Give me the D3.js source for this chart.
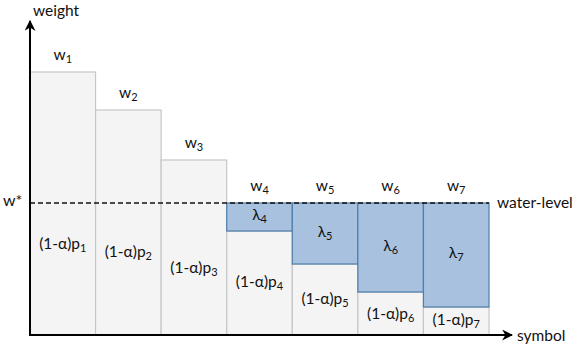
<!DOCTYPE html>
<html>
<head>
<meta charset="utf-8">
<script src="https://cdn.jsdelivr.net/npm/d3@7"></script>
<style>
  body { margin: 0; background: #fff; }
  svg { display: block; font-family: Lato, "Open Sans", sans-serif; }
</style>
</head>
<body>
<svg id="chart" width="581" height="350"></svg>
<script>
const symbols = [1, 2, 3, 4, 5, 6, 7];
// weight of each symbol (arbitrary units)
const weights = [2.63, 2.25, 1.75, 1.04, 0.71, 0.43, 0.28];
const waterLevel = 1.32;
// where the (1-α)p label sits inside each grey block
const pLabelAt = [0.90, 0.82, 0.66, 0.52, 0.355, 0.2, 0.14];

const svg = d3.select("#chart");
const x = d3.scaleBand().domain(symbols).range([30, 489]).padding(0);
const y = d3.scaleLinear().domain([0, 3.13]).range([335, 22]);

const grey = "#f4f4f4", greyLine = "#c6c6c6";
const blue = "#a7c1df", blueLine = "#4e7eab";
const fs = 15.5;

// grey blocks: full weight, capped at the water level for the filled ones
svg.append("g").selectAll("rect").data(symbols).join("rect")
  .attr("x", d => x(d))
  .attr("y", (d, i) => y(weights[i]))
  .attr("width", x.bandwidth())
  .attr("height", (d, i) => y(0) - y(weights[i]))
  .attr("fill", grey).attr("stroke", greyLine).attr("stroke-width", 1.2);

// blue water between the weight and the water level
const filled = symbols.filter((d, i) => weights[i] < waterLevel);
svg.append("g").selectAll("rect").data(filled).join("rect")
  .attr("x", d => x(d))
  .attr("y", y(waterLevel))
  .attr("width", x.bandwidth())
  .attr("height", d => y(weights[d - 1]) - y(waterLevel))
  .attr("fill", blue).attr("stroke", blueLine).attr("stroke-width", 1.2);

function subLabel(g, px, py, main, sub) {
  const t = g.append("text").attr("x", px).attr("y", py)
    .attr("text-anchor", "middle").attr("font-size", fs).attr("fill", "#111");
  t.append("tspan").text(main);
  t.append("tspan").attr("font-size", 11).attr("dy", 3).text(sub);
  return t;
}

const labels = svg.append("g");
symbols.forEach((d, i) => {
  const cx = x(d) + x.bandwidth() / 2;
  const top = Math.max(weights[i], waterLevel);
  subLabel(labels, cx, y(top) - 12, "w", d);
  subLabel(labels, cx, y(pLabelAt[i]) + 4, "(1-α)p", d);
  if (weights[i] < waterLevel) {
    subLabel(labels, cx, (y(weights[i]) + y(waterLevel)) / 2 + 3, "λ", d);
  }
});

// water level
svg.append("line")
  .attr("x1", 30).attr("x2", x.range()[1])
  .attr("y1", y(waterLevel)).attr("y2", y(waterLevel))
  .attr("stroke", "#111").attr("stroke-width", 1.5).attr("stroke-dasharray", "5,3");

svg.append("text").attr("x", 3).attr("y", y(waterLevel) + 3)
  .attr("font-size", fs + 0.5).attr("fill", "#111").text("w*");
svg.append("text").attr("x", 497).attr("y", y(waterLevel) + 5)
  .attr("font-size", fs).attr("fill", "#111").text("water-level");

// axes with arrow heads
const defs = svg.append("defs");
defs.append("marker").attr("id", "arrow")
  .attr("viewBox", "0 0 10 10").attr("refX", 9).attr("refY", 5)
  .attr("markerWidth", 5.5).attr("markerHeight", 5.5).attr("orient", "auto")
  .attr("markerUnits", "strokeWidth")
  .append("path").attr("d", "M0,0L10,5L0,10L3,5z").attr("fill", "#000");

svg.append("line").attr("x1", 30).attr("x2", 30).attr("y1", y(0) + 1).attr("y2", 21)
  .attr("stroke", "#000").attr("stroke-width", 2).attr("marker-end", "url(#arrow)");
svg.append("line").attr("x1", 29).attr("x2", 512).attr("y1", y(0)).attr("y2", y(0))
  .attr("stroke", "#000").attr("stroke-width", 2).attr("marker-end", "url(#arrow)");

svg.append("text").attr("x", 33).attr("y", 16).attr("font-size", fs).attr("fill", "#111").text("weight");
svg.append("text").attr("x", 517).attr("y", 341).attr("font-size", fs).attr("fill", "#111").text("symbol");
</script>
</body>
</html>
